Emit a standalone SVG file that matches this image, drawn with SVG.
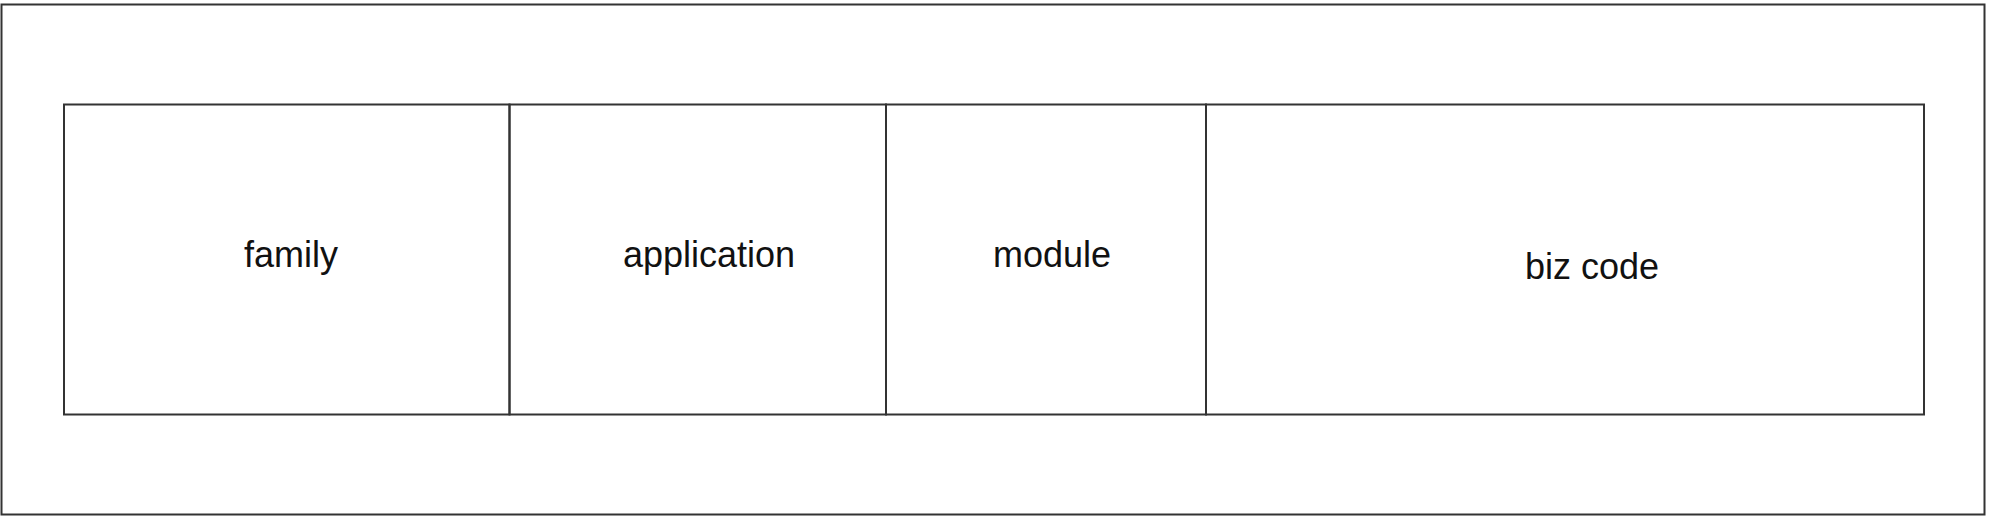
<svg xmlns="http://www.w3.org/2000/svg" width="1990" height="520" viewBox="0 0 1990 520">
  <style>
    .frame { fill: #ffffff; stroke: #333333; stroke-width: 2; }
    .cell { fill: none; stroke: #333333; stroke-width: 2; }
    .label { font-family: "Liberation Sans", Arial, sans-serif; font-size: 36px; fill: #111111; text-anchor: middle; }
  </style>
  <rect x="0" y="0" width="1990" height="520" fill="#ffffff"/>
  <g id="container">
    <rect class="frame" x="1.5" y="4.5" width="1983" height="510"/>
  </g>
  <g id="family">
    <rect class="cell" x="64" y="104.5" width="445.5" height="310"/>
    <text class="label" x="291" y="267">family</text>
  </g>
  <g id="application">
    <rect class="cell" x="509.5" y="104.5" width="376.5" height="310"/>
    <text class="label" x="709" y="267">application</text>
  </g>
  <g id="module">
    <rect class="cell" x="886" y="104.5" width="320" height="310"/>
    <text class="label" x="1052" y="267">module</text>
  </g>
  <g id="biz-code">
    <rect class="cell" x="1206" y="104.5" width="718" height="310"/>
    <text class="label" x="1592" y="279">biz code</text>
  </g>
  <g id="connectors"/>
</svg>
